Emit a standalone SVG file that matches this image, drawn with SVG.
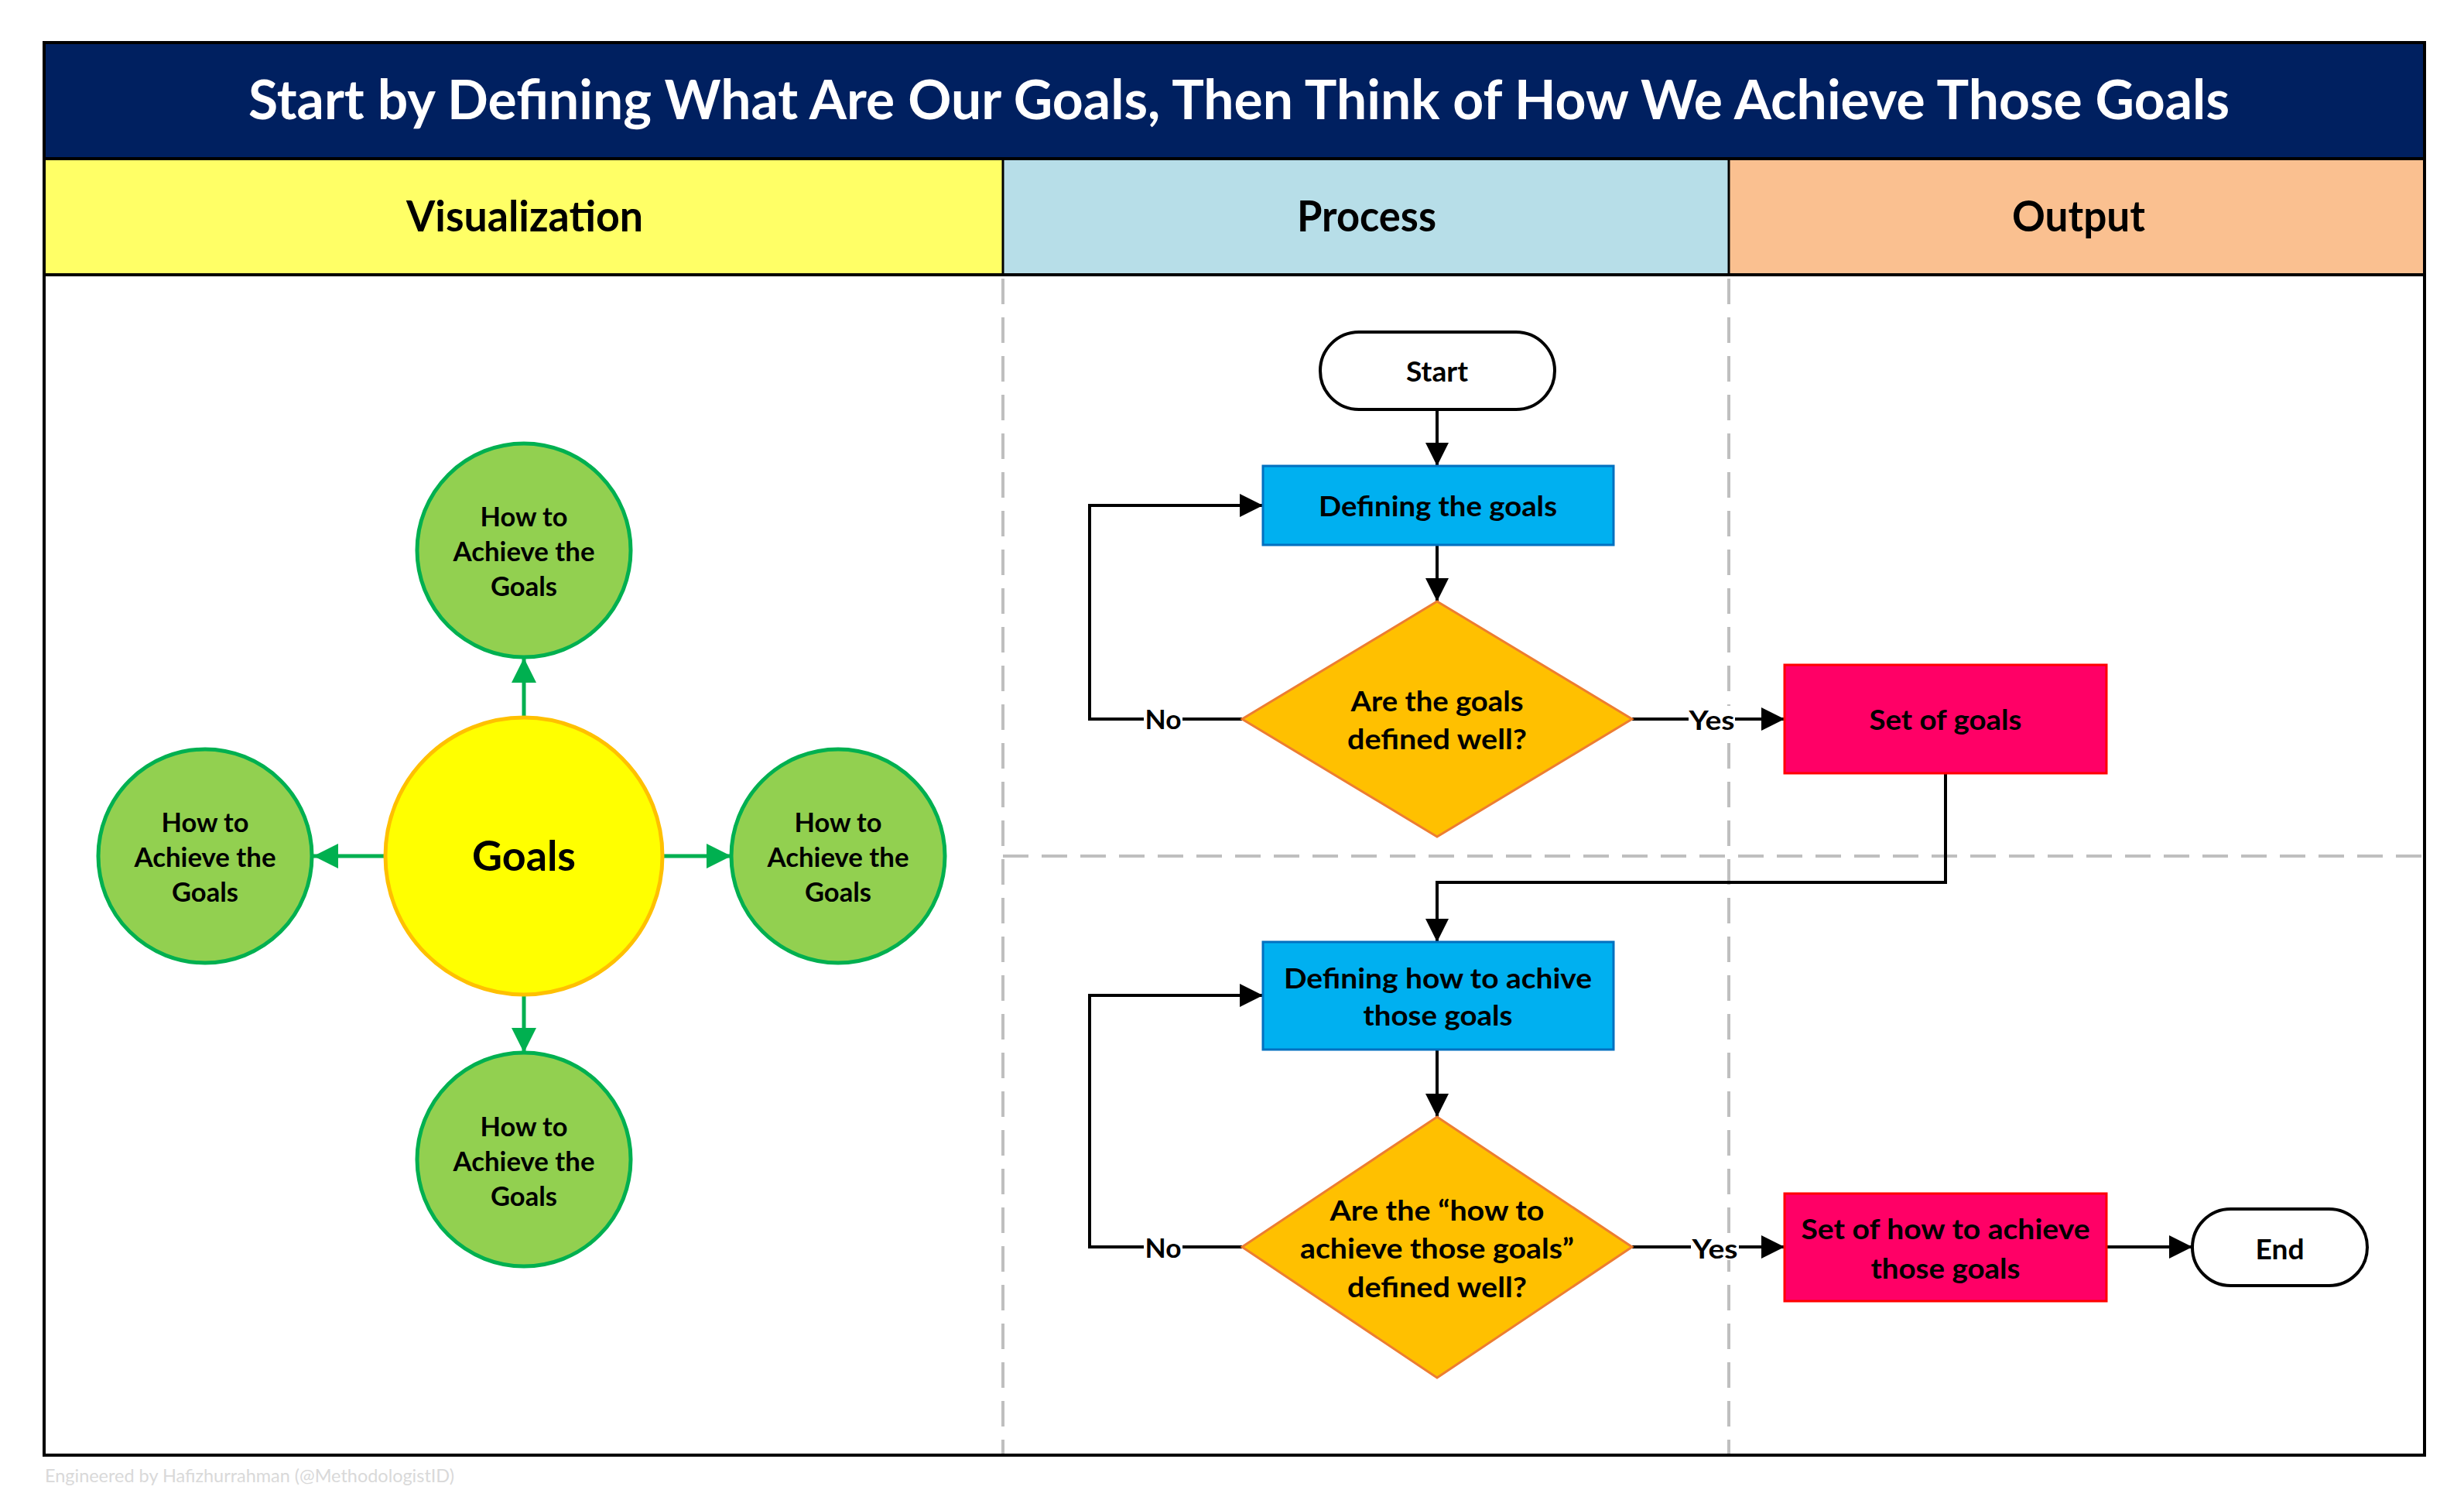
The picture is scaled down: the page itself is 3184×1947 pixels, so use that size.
<svg xmlns="http://www.w3.org/2000/svg" width="3184" height="1947" viewBox="0 0 3184 1947">
<defs>
<style>
.t{font-family:Lato,"Open Sans","Liberation Sans",sans-serif;font-weight:700;text-anchor:middle;fill:#000}
.ti{font-size:71px;fill:#fff}
.hd{font-size:55px}
.ct{font-size:35px}
.ft{font-size:37px}
.big{font-size:54px}
.lb{font-size:35px}
.gc{fill:#92D050;stroke:#00B050;stroke-width:5}
.pr{fill:#00B0F0;stroke:#0070C0;stroke-width:3}
.dm{fill:#FFC000;stroke:#ED7D31;stroke-width:3}
.out{fill:#FF0066;stroke:#FF0000;stroke-width:3}
.term{fill:#fff;stroke:#000;stroke-width:4}
.cb{fill:none;stroke:#000;stroke-width:4}
.cg{fill:none;stroke:#00B050;stroke-width:5}
.dash{fill:none;stroke:#BFBFBF;stroke-width:4;stroke-dasharray:33 17}
</style>
<marker id="ab" markerUnits="userSpaceOnUse" markerWidth="30" markerHeight="30" viewBox="0 0 30 30" refX="30" refY="15" orient="auto"><path d="M0,0 L30,15 L0,30 Z" fill="#000"/></marker>
<marker id="ag" markerUnits="userSpaceOnUse" markerWidth="32" markerHeight="32" viewBox="0 0 32 32" refX="32" refY="16" orient="auto"><path d="M0,0 L32,16 L0,32 Z" fill="#00B050"/></marker>
</defs>
<rect width="3184" height="1947" fill="#fff"/>

<g id="frame">
<rect x="57" y="55" width="3076" height="150" fill="#002060"/>
<rect x="57" y="205" width="1239" height="150" fill="#FFFF66"/>
<rect x="1296" y="205" width="938" height="150" fill="#B7DEE8"/>
<rect x="2234" y="205" width="899" height="150" fill="#FAC090"/>
<line x1="57" y1="205" x2="3133" y2="205" stroke="#000" stroke-width="4"/>
<line x1="57" y1="355" x2="3133" y2="355" stroke="#000" stroke-width="4"/>
<line x1="1296" y1="205" x2="1296" y2="355" stroke="#000" stroke-width="3"/>
<line x1="2234" y1="205" x2="2234" y2="355" stroke="#000" stroke-width="3"/>
<line class="dash" x1="1296" y1="360" x2="1296" y2="1878"/>
<line class="dash" x1="2234" y1="360" x2="2234" y2="1878"/>
<line class="dash" x1="1296" y1="1106" x2="3131" y2="1106"/>
<rect x="57" y="55" width="3076" height="1825" fill="none" stroke="#000" stroke-width="4"/>
<text class="t ti" x="1601" y="154" textLength="2560" lengthAdjust="spacingAndGlyphs">Start by Defining What Are Our Goals, Then Think of How We Achieve Those Goals</text>
<text class="t hd" x="678" y="299" textLength="306" lengthAdjust="spacingAndGlyphs">Visualization</text>
<text class="t hd" x="1766" y="299" textLength="180" lengthAdjust="spacingAndGlyphs">Process</text>
<text class="t hd" x="2686" y="299" textLength="172" lengthAdjust="spacingAndGlyphs">Output</text>
<text x="58" y="1915" font-family="Lato,'Open Sans','Liberation Sans',sans-serif" font-size="24" fill="#D9D9D9" textLength="529" lengthAdjust="spacingAndGlyphs">Engineered by Hafizhurrahman (@MethodologistID)</text>
</g>

<g id="connectors">
<line class="cg" x1="677" y1="927" x2="677" y2="850" marker-end="url(#ag)"/>
<line class="cg" x1="677" y1="1285" x2="677" y2="1360" marker-end="url(#ag)"/>
<line class="cg" x1="498" y1="1106" x2="405" y2="1106" marker-end="url(#ag)"/>
<line class="cg" x1="856" y1="1106" x2="945" y2="1106" marker-end="url(#ag)"/>
<path class="cb" d="M1857,529 V602" marker-end="url(#ab)"/>
<path class="cb" d="M1857,704 V777" marker-end="url(#ab)"/>
<path class="cb" d="M1605,929 H1408 V653 H1632" marker-end="url(#ab)"/>
<path class="cb" d="M2109,929 H2306" marker-end="url(#ab)"/>
<path class="cb" d="M2514,999 V1140 H1857 V1217" marker-end="url(#ab)"/>
<path class="cb" d="M1857,1356 V1443" marker-end="url(#ab)"/>
<path class="cb" d="M1605,1611 H1408 V1286 H1632" marker-end="url(#ab)"/>
<path class="cb" d="M2109,1611 H2306" marker-end="url(#ab)"/>
<path class="cb" d="M2722,1611 H2833" marker-end="url(#ab)"/>
<g id="label-no1"><rect x="1478" y="912" width="50" height="34" fill="#fff"/><text class="t lb" x="1503" y="942" textLength="47" lengthAdjust="spacingAndGlyphs">No</text></g>
<g id="label-yes1"><rect x="2182" y="912" width="60" height="34" fill="#fff"/><text class="t lb" x="2212" y="943" textLength="59" lengthAdjust="spacingAndGlyphs">Yes</text></g>
<g id="label-no2"><rect x="1478" y="1594" width="50" height="34" fill="#fff"/><text class="t lb" x="1503" y="1625" textLength="47" lengthAdjust="spacingAndGlyphs">No</text></g>
<g id="label-yes2"><rect x="2185" y="1594" width="62" height="34" fill="#fff"/><text class="t lb" x="2216" y="1626" textLength="59" lengthAdjust="spacingAndGlyphs">Yes</text></g>
</g>

<g id="goals">
<circle cx="677" cy="1106" r="179" fill="#FFFF00" stroke="#FFC000" stroke-width="5"/>
<text class="t big" x="677" y="1125" textLength="134" lengthAdjust="spacingAndGlyphs">Goals</text>
</g>
<g id="how-top">
<circle class="gc" cx="677" cy="711" r="138"/>
<text class="t ct" x="677" y="680" textLength="113" lengthAdjust="spacingAndGlyphs">How to</text>
<text class="t ct" x="677" y="725" textLength="183" lengthAdjust="spacingAndGlyphs">Achieve the</text>
<text class="t ct" x="677" y="770" textLength="86" lengthAdjust="spacingAndGlyphs">Goals</text>
</g>
<g id="how-left">
<circle class="gc" cx="265" cy="1106" r="138"/>
<text class="t ct" x="265" y="1075" textLength="113" lengthAdjust="spacingAndGlyphs">How to</text>
<text class="t ct" x="265" y="1120" textLength="183" lengthAdjust="spacingAndGlyphs">Achieve the</text>
<text class="t ct" x="265" y="1165" textLength="86" lengthAdjust="spacingAndGlyphs">Goals</text>
</g>
<g id="how-right">
<circle class="gc" cx="1083" cy="1106" r="138"/>
<text class="t ct" x="1083" y="1075" textLength="113" lengthAdjust="spacingAndGlyphs">How to</text>
<text class="t ct" x="1083" y="1120" textLength="183" lengthAdjust="spacingAndGlyphs">Achieve the</text>
<text class="t ct" x="1083" y="1165" textLength="86" lengthAdjust="spacingAndGlyphs">Goals</text>
</g>
<g id="how-bottom">
<circle class="gc" cx="677" cy="1498" r="138"/>
<text class="t ct" x="677" y="1468" textLength="113" lengthAdjust="spacingAndGlyphs">How to</text>
<text class="t ct" x="677" y="1513" textLength="183" lengthAdjust="spacingAndGlyphs">Achieve the</text>
<text class="t ct" x="677" y="1558" textLength="86" lengthAdjust="spacingAndGlyphs">Goals</text>
</g>

<g id="start">
<rect class="term" x="1706" y="429" width="303" height="100" rx="50"/>
<text class="t ft" x="1857" y="493" textLength="80" lengthAdjust="spacingAndGlyphs">Start</text>
</g>
<g id="define-goals">
<rect class="pr" x="1632" y="602" width="453" height="102"/>
<text class="t ft" x="1858" y="667" textLength="308" lengthAdjust="spacingAndGlyphs">Defining the goals</text>
</g>
<g id="decision1">
<polygon class="dm" points="1857,777 2109,929 1857,1081 1605,929"/>
<text class="t ft" x="1857" y="919" textLength="223" lengthAdjust="spacingAndGlyphs">Are the goals</text>
<text class="t ft" x="1857" y="968" textLength="232" lengthAdjust="spacingAndGlyphs">defined well?</text>
</g>
<g id="set-goals">
<rect class="out" x="2306" y="859" width="416" height="140"/>
<text class="t ft" x="2514" y="943" textLength="197" lengthAdjust="spacingAndGlyphs">Set of goals</text>
</g>
<g id="define-how">
<rect class="pr" x="1632" y="1217" width="453" height="139"/>
<text class="t ft" x="1858" y="1277" textLength="398" lengthAdjust="spacingAndGlyphs">Defining how to achive</text>
<text class="t ft" x="1858" y="1325" textLength="193" lengthAdjust="spacingAndGlyphs">those goals</text>
</g>
<g id="decision2">
<polygon class="dm" points="1857,1443 2109,1611 1857,1780 1605,1611"/>
<text class="t ft" x="1857" y="1577" textLength="277" lengthAdjust="spacingAndGlyphs">Are the “how to</text>
<text class="t ft" x="1857" y="1626" textLength="354" lengthAdjust="spacingAndGlyphs">achieve those goals”</text>
<text class="t ft" x="1857" y="1676" textLength="232" lengthAdjust="spacingAndGlyphs">defined well?</text>
</g>
<g id="set-how">
<rect class="out" x="2306" y="1542" width="416" height="139"/>
<text class="t ft" x="2514" y="1601" textLength="373" lengthAdjust="spacingAndGlyphs">Set of how to achieve</text>
<text class="t ft" x="2514" y="1652" textLength="193" lengthAdjust="spacingAndGlyphs">those goals</text>
</g>
<g id="end">
<rect class="term" x="2833" y="1562" width="226" height="99" rx="49.5"/>
<text class="t ft" x="2946" y="1627" textLength="63" lengthAdjust="spacingAndGlyphs">End</text>
</g>
</svg>
